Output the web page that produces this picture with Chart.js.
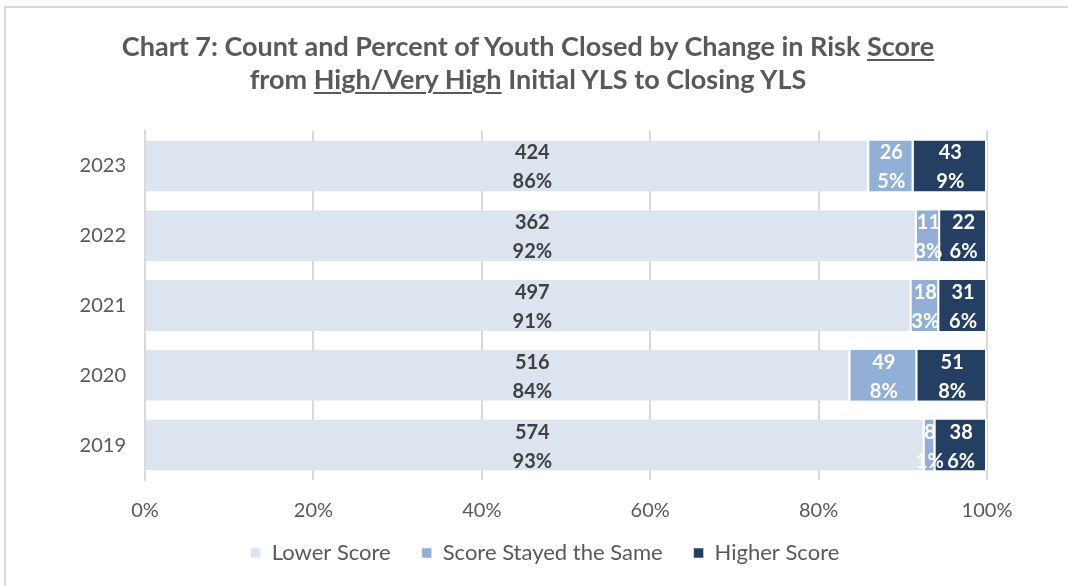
<!DOCTYPE html>
<html>
<head>
<meta charset="utf-8">
<script src="https://cdn.jsdelivr.net/npm/chart.js@4"></script>
<style>
  body { margin: 0; background: #fff; }
  #wrap { position: relative; width: 1068px; height: 586px; overflow: hidden; }
  #frame { position: absolute; left: 4px; top: 6px; width: 1100px; height: 620px; border: 2px solid #d9d9d9; }
  #title { position: absolute; left: 0; top: 29px; width: 1056px; text-align: center;
           font-family: Lato, sans-serif; font-weight: bold; font-size: 27px; line-height: 33px; color: #595959; }
  #title u { text-decoration-thickness: 2px; text-underline-offset: 3px; }
  canvas { position: absolute; left: 0; top: 0; }
</style>
</head>
<body>
<div id="wrap">
  <div id="frame"></div>
  <canvas id="chart" width="1068" height="586"></canvas>
  <div id="title">Chart 7: Count and Percent of Youth Closed by Change in Risk <u>Score</u><br>from <u>High/Very High</u> Initial YLS to Closing YLS</div>
</div>
<script>
var years = ["2023", "2022", "2021", "2020", "2019"];
var lowerScore = [424, 362, 497, 516, 574];
var sameScore = [26, 11, 18, 49, 8];
var higherScore = [43, 22, 31, 51, 38];
var xTicks = ["0%", "20%", "40%", "60%", "80%", "100%"];

var totals = years.map(function (y, i) { return lowerScore[i] + sameScore[i] + higherScore[i]; });
function share(arr) {
    return arr.map(function (v, i) { return v / totals[i] * 100; });
}

var counts = [lowerScore, sameScore, higherScore];
var labelColors = ["#404040", "#ffffff", "#ffffff"];

// draws "count / percent" on each segment; the big light segment
// gets its label near the 46% mark like the original does
var segmentLabels = {
    id: "segmentLabels",
    afterDatasetsDraw: function (chart) {
        var ctx = chart.ctx;
        var xs = chart.scales.x;
        ctx.save();
        ctx.font = "bold 20px Lato, sans-serif";
        ctx.textAlign = "center";
        ctx.textBaseline = "middle";
        chart.data.datasets.forEach(function (ds, d) {
            var meta = chart.getDatasetMeta(d);
            meta.data.forEach(function (bar, i) {
                var cx = d == 0 ? xs.getPixelForValue(46) : (bar.x + bar.base) / 2;
                ctx.fillStyle = labelColors[d];
                ctx.fillText(String(counts[d][i]), cx, bar.y - 13);
                ctx.fillText(Math.round(ds.data[i]) + "%", cx, bar.y + 16);
            });
        });
        ctx.restore();
    }
};

new Chart(document.getElementById("chart"), {
    type: "bar",
    data: {
        labels: years,
        datasets: [
            { label: "Lower Score", data: share(lowerScore), backgroundColor: "#dce4f0" },
            { label: "Score Stayed the Same", data: share(sameScore), backgroundColor: "#92afd6" },
            { label: "Higher Score", data: share(higherScore), backgroundColor: "#253f62" }
        ]
    },
    options: {
        indexAxis: "y",
        responsive: false,
        animation: false,
        datasets: {
            bar: {
                categoryPercentage: 1,
                barPercentage: 0.73,
                borderColor: "#ffffff",
                borderWidth: { top: 0, bottom: 0, left: 0, right: 2 },
                borderSkipped: false
            }
        },
        layout: { padding: { top: 131, right: 0, bottom: 12, left: 22 } },
        scales: {
            x: {
                stacked: true,
                min: 0,
                max: 100,
                ticks: {
                    stepSize: 20,
                    padding: 19,
                    color: "#595959",
                    font: { family: "Lato, sans-serif", size: 20 },
                    callback: function (v, i) { return xTicks[i]; }
                },
                grid: { color: "#d9d9d9", lineWidth: 2, drawTicks: false },
                border: { display: false },
                afterFit: function (s) { s.height = 42; }
            },
            y: {
                stacked: true,
                ticks: {
                    padding: 11,
                    color: "#595959",
                    font: { family: "Lato, sans-serif", size: 20 }
                },
                grid: { display: false },
                border: { color: "#d9d9d9", width: 2 },
                afterFit: function (s) { s.width = 123; }
            },
            // empty right-hand spacer so the legend centres like the original
            spacer: {
                type: "category",
                axis: "y",
                position: "right",
                ticks: { display: false },
                grid: { display: false },
                border: { display: false },
                afterFit: function (s) { s.width = 81; }
            }
        },
        plugins: {
            title: { display: false },
            tooltip: { enabled: false },
            legend: {
                position: "bottom",
                labels: {
                    boxWidth: 10,
                    boxHeight: 10,
                    padding: 20,
                    color: "#595959",
                    font: { family: "Lato, sans-serif", size: 22 },
                    // a trailing en space widens the gap between items a little
                    generateLabels: function (chart) {
                        var items = Chart.defaults.plugins.legend.labels.generateLabels(chart);
                        items.forEach(function (it, i) {
                            if (i < items.length - 1) it.text += "\u2002";
                        });
                        return items;
                    }
                }
            }
        }
    },
    plugins: [segmentLabels]
});
</script>
</body>
</html>
